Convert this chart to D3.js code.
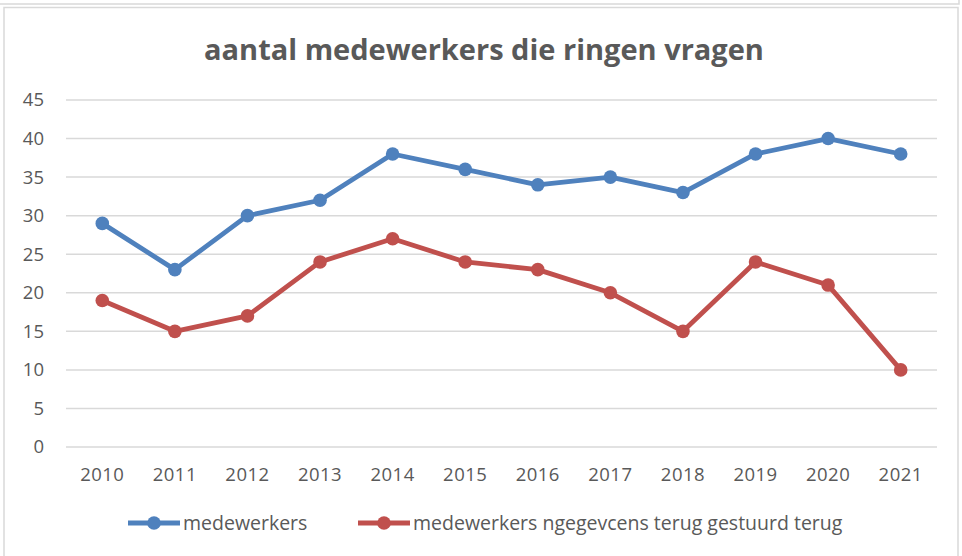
<!DOCTYPE html>
<html>
<head>
<meta charset="utf-8">
<title>aantal medewerkers</title>
<script src="https://cdnjs.cloudflare.com/ajax/libs/d3/7.8.5/d3.min.js"></script>
<style>
  body { margin: 0; background: #fff; }
  text { font-family: "Open Sans", "Noto Sans", sans-serif; fill: #595959; }
</style>
</head>
<body>
<script>
// chart data
var years = ["2010","2011","2012","2013","2014","2015","2016","2017","2018","2019","2020","2021"];
var medewerkers = [29,23,30,32,38,36,34,35,33,38,40,38];
var teruggestuurd = [19,15,17,24,27,24,23,20,15,24,21,10];
var yTicks = [0,5,10,15,20,25,30,35,40,45];
var seriesNames = ["medewerkers", "medewerkers ngegevcens terug gestuurd terug"];
var colors = ["#4F81BD", "#C0504D"];

var W = 962, H = 556;
var svg = d3.select("body").append("svg").attr("width", W).attr("height", H);

// frames (previous chart bottom + this chart's border)
svg.append("rect").attr("x", -10).attr("y", -10).attr("width", W + 7).attr("height", 14)
  .attr("fill", "none").attr("stroke", "#d9d9d9").attr("stroke-width", 1.5);
svg.append("rect").attr("x", 4).attr("y", 7.5).attr("width", 954).attr("height", 560)
  .attr("fill", "none").attr("stroke", "#d9d9d9").attr("stroke-width", 1.5);

var plot = {left: 66, right: 937, top: 100, bottom: 447};

var x = d3.scaleBand().domain(years).range([plot.left, plot.right]);
var y = d3.scaleLinear().domain([0, 45]).range([plot.bottom, plot.top]);

// gridlines
svg.append("g").selectAll("line").data(yTicks).join("line")
  .attr("x1", plot.left).attr("x2", plot.right)
  .attr("y1", function(d) { return y(d); }).attr("y2", function(d) { return y(d); })
  .attr("stroke", "#d9d9d9").attr("stroke-width", 1.5);

// y axis labels
var yAxis = d3.axisLeft(y).tickValues(yTicks).tickSize(0).tickPadding(22);
var gy = svg.append("g").attr("transform", "translate(" + plot.left + ",0)").call(yAxis);
gy.select(".domain").remove();
gy.selectAll("text").style("font-size", "18.5px").attr("fill", "#595959");

// x axis labels
var xAxis = d3.axisBottom(x).tickSize(0).tickPadding(21);
var gx = svg.append("g").attr("transform", "translate(0," + plot.bottom + ")").call(xAxis);
gx.select(".domain").remove();
gx.selectAll("text").style("font-size", "18.5px").style("letter-spacing", "0.5px").attr("fill", "#595959");

// title
svg.append("text").attr("x", 484).attr("y", 60).attr("text-anchor", "middle")
  .style("font-size", "29px").style("font-weight", "bold")
  .text("aantal medewerkers die ringen vragen");

// lines + markers
var line = d3.line()
  .x(function(d, i) { return x(years[i]) + x.bandwidth() / 2; })
  .y(function(d) { return y(d); });

[medewerkers, teruggestuurd].forEach(function(vals, k) {
  svg.append("path").attr("d", line(vals)).attr("fill", "none")
    .attr("stroke", colors[k]).attr("stroke-width", 4.8).attr("stroke-linejoin", "round");
  svg.append("g").selectAll("circle").data(vals).join("circle")
    .attr("cx", function(d, i) { return x(years[i]) + x.bandwidth() / 2; })
    .attr("cy", function(d) { return y(d); })
    .attr("r", 6.8).attr("fill", colors[k]);
});

// legend
var legendX = [128, 358];
seriesNames.forEach(function(name, k) {
  var g = svg.append("g").attr("transform", "translate(" + legendX[k] + ",523)");
  g.append("line").attr("x1", 0).attr("x2", 52).attr("stroke", colors[k]).attr("stroke-width", 4.8);
  g.append("circle").attr("cx", 26).attr("r", 6.8).attr("fill", colors[k]);
  g.append("text").attr("x", 55).attr("dy", "0.35em").style("font-size", "19.5px").text(name);
});
</script>
</body>
</html>
